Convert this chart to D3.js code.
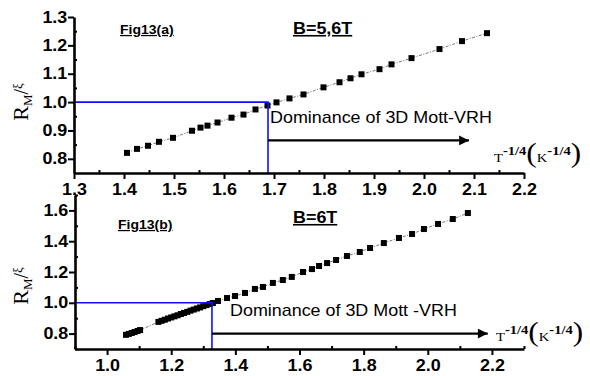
<!DOCTYPE html>
<html>
<head>
<meta charset="utf-8">
<script src="https://cdn.jsdelivr.net/npm/d3@7"></script>
<style>
  html, body { margin: 0; padding: 0; background: #fff; }
  svg { display: block; }
</style>
</head>
<body>
<svg id="chart" width="590" height="376"></svg>
<script>
// Panel (a): B = 5.6 T
const tA = [1.406, 1.426, 1.448, 1.470, 1.498, 1.536, 1.553, 1.567, 1.587, 1.615, 1.639, 1.663, 1.687,
            1.705, 1.731, 1.759, 1.799, 1.831, 1.853, 1.875, 1.911, 1.935, 1.975, 2.031, 2.076, 2.126];
const rA = [0.821, 0.835, 0.846, 0.860, 0.874, 0.899, 0.910, 0.917, 0.928, 0.945, 0.956, 0.974, 0.988,
            0.999, 1.013, 1.027, 1.052, 1.070, 1.084, 1.098, 1.116, 1.133, 1.155, 1.187, 1.215, 1.243];

// Panel (b): B = 6 T
const tB = [1.059, 1.068, 1.077, 1.086, 1.095, 1.103,
            1.160, 1.170, 1.180, 1.190, 1.200, 1.210, 1.220, 1.230, 1.240, 1.250, 1.260, 1.270, 1.280,
            1.290, 1.300, 1.310, 1.320, 1.330,
            1.346, 1.374, 1.399, 1.430, 1.461, 1.486, 1.517, 1.548, 1.576, 1.611, 1.639, 1.661, 1.686,
            1.714, 1.748, 1.788, 1.820, 1.863, 1.910, 1.951, 1.988, 2.032, 2.078, 2.125];
const rB = [0.792, 0.798, 0.804, 0.810, 0.817, 0.823,
            0.876, 0.883, 0.890, 0.898, 0.905, 0.912, 0.919, 0.927, 0.934, 0.941, 0.949, 0.956, 0.963,
            0.970, 0.978, 0.985, 0.992, 0.999,
            1.012, 1.031, 1.044, 1.064, 1.090, 1.103, 1.129, 1.148, 1.168, 1.200, 1.219, 1.239, 1.258,
            1.278, 1.304, 1.330, 1.356, 1.388, 1.421, 1.447, 1.479, 1.512, 1.544, 1.583];

// Tick values
const xMajorA = [1.3, 1.4, 1.5, 1.6, 1.7, 1.8, 1.9, 2.0, 2.1, 2.2];
const xMinorA = [1.35, 1.45, 1.55, 1.65, 1.75, 1.85, 1.95, 2.05, 2.15];
const yMajorA = [0.8, 0.9, 1.0, 1.1, 1.2, 1.3];
const yMinorA = [0.85, 0.95, 1.05, 1.15, 1.25];
const xMajorB = [1.0, 1.2, 1.4, 1.6, 1.8, 2.0, 2.2];
const xMinorB = [0.9, 1.1, 1.3, 1.5, 1.7, 1.9, 2.1, 2.3];
const yMajorB = [0.8, 1.0, 1.2, 1.4, 1.6];
const yMinorB = [0.7, 0.9, 1.1, 1.3, 1.5, 1.7];

// Crossover guides (T^-1/4 where R/xi = 1) and arrow extents
const crossA = 1.688, arrowA = [1.688, 2.09], arrowYA = 0.865;
const crossB = 1.327, arrowB = [1.327, 2.187], arrowYB = 0.80;

const svg = d3.select("#chart");
const SX = 1.12; // horizontal text stretch

svg.append("defs").append("marker")
  .attr("id", "head").attr("viewBox", "0 0 10 10")
  .attr("refX", 10).attr("refY", 5)
  .attr("markerWidth", 7).attr("markerHeight", 4.5)
  .attr("markerUnits", "strokeWidth")
  .attr("orient", "auto")
  .append("path").attr("d", "M0,0 L10,5 L0,10 Z").attr("fill", "#000");

function panel(cfg) {
  const x = d3.scaleLinear(cfg.xDomain, cfg.xRange);
  const y = d3.scaleLinear(cfg.yDomain, cfg.yRange);
  const g = svg.append("g");

  // data: dotted connector + square markers
  const pts = cfg.xs.map((v, i) => [v, cfg.ys[i]]);
  g.append("path")
    .datum(pts)
    .attr("fill", "none").attr("stroke", "#777").attr("stroke-width", 1)
    .attr("stroke-dasharray", "3,1.5,1,1.5")
    .attr("d", d3.line().x(d => x(d[0])).y(d => y(d[1])));
  const s = cfg.marker;
  g.selectAll("rect.pt").data(pts).join("rect")
    .attr("class", "pt")
    .attr("x", d => x(d[0]) - s / 2).attr("y", d => y(d[1]) - s / 2)
    .attr("width", s).attr("height", s).attr("fill", "#000");

  // blue guide lines at R/xi = 1
  g.append("path")
    .attr("fill", "none").attr("stroke", "#1010ff").attr("stroke-width", 1.6)
    .attr("d", d3.line()([[x(cfg.xDomain[0]), y(1.0)], [x(cfg.cross), y(1.0)], [x(cfg.cross), y(cfg.yDomain[0])]]));

  // arrow
  g.append("line")
    .attr("x1", x(cfg.arrow[0])).attr("x2", x(cfg.arrow[1]))
    .attr("y1", y(cfg.arrowY)).attr("y2", y(cfg.arrowY))
    .attr("stroke", "#000").attr("stroke-width", 2.2)
    .attr("marker-end", "url(#head)");

  // axes
  const styleAxis = sel => {
    sel.select(".domain").attr("stroke", "#000").attr("stroke-width", 2.6);
    sel.selectAll(".tick line").attr("stroke", "#000").attr("stroke-width", 2);
    sel.selectAll(".tick text")
      .attr("font-family", "'Liberation Sans', Arial, sans-serif")
      .attr("font-weight", "bold").attr("font-size", 16).attr("fill", "#000")
      .attr("transform", `scale(${SX},1)`);
  };
  const x0 = cfg.xRange[0], y0 = cfg.yRange[0];
  const ax = g.append("g").attr("transform", `translate(0,${y0})`)
    .call(d3.axisBottom(x).tickValues(cfg.xMajor).tickSize(6).tickSizeOuter(0).tickPadding(5)
      .tickFormat(d3.format(".1f")));
  styleAxis(ax);
  g.append("g").attr("transform", `translate(0,${y0})`)
    .call(d3.axisBottom(x).tickValues(cfg.xMinor).tickSize(-3).tickFormat(""))
    .call(s2 => { s2.select(".domain").remove(); s2.selectAll("line").attr("stroke", "#000").attr("stroke-width", 2); });
  const ay = g.append("g").attr("transform", `translate(${x0},0)`)
    .call(d3.axisLeft(y).tickValues(cfg.yMajor).tickSize(6).tickSizeOuter(0).tickPadding(0)
      .tickFormat(d3.format(".1f")));
  styleAxis(ay);
  g.append("g").attr("transform", `translate(${x0},0)`)
    .call(d3.axisLeft(y).tickValues(cfg.yMinor).tickSize(-3).tickFormat(""))
    .call(s2 => { s2.select(".domain").remove(); s2.selectAll("line").attr("stroke", "#000").attr("stroke-width", 2); });

  // labels
  const label = (txt, px, py, size, bold) => g.append("text")
    .attr("transform", `translate(${px},${py}) scale(${SX},1)`)
    .attr("font-family", "'Liberation Sans', Arial, sans-serif")
    .attr("font-size", size).attr("font-weight", bold ? "bold" : "normal")
    .attr("text-decoration", bold ? "underline" : null)
    .attr("fill", "#000").text(txt);
  label(cfg.fig, cfg.figPos[0], cfg.figPos[1], 12.5, true);
  label(cfg.field, cfg.fieldPos[0], cfg.fieldPos[1], 16, true);
  label(cfg.note, cfg.notePos[0], cfg.notePos[1], 16, false);

  // x-axis title: T^-1/4 (K^-1/4)
  const xt = g.append("text")
    .attr("transform", `translate(${cfg.xTitle[0]},${cfg.xTitle[1]}) scale(${SX},1)`)
    .attr("font-family", "'Liberation Serif', 'Times New Roman', serif")
    .attr("fill", "#000");
  xt.append("tspan").attr("font-size", 13).text("T");
  xt.append("tspan").attr("font-size", 13).attr("font-weight", "bold").attr("dy", -7).text("-1/4");
  xt.append("tspan").attr("font-size", 28).attr("dy", 7).text("(");
  xt.append("tspan").attr("font-size", 13).text("K");
  xt.append("tspan").attr("font-size", 13).attr("font-weight", "bold").attr("dy", -7).text("-1/4");
  xt.append("tspan").attr("font-size", 28).attr("dy", 7).text(")");

  // y-axis title: R_M / xi
  const yt = g.append("text")
    .attr("transform", `translate(${cfg.yTitle[0]},${cfg.yTitle[1]}) rotate(-90)`)
    .attr("text-anchor", "middle")
    .attr("font-family", "'Liberation Serif', 'Times New Roman', serif")
    .attr("fill", "#000");
  yt.append("tspan").attr("font-size", 22).text("R");
  yt.append("tspan").attr("font-size", 13).attr("dy", 4).text("M");
  yt.append("tspan").attr("font-size", 20).attr("dy", -4).text("/");
  yt.append("tspan").attr("font-size", 13).attr("dy", -6).text("ξ");
}

panel({
  xs: tA, ys: rA, marker: 6,
  xDomain: [1.3, 2.2], xRange: [74, 524],
  yDomain: [0.75, 1.3], yRange: [173, 17],
  xMajor: xMajorA, xMinor: xMinorA, yMajor: yMajorA, yMinor: yMinorA,
  cross: crossA, arrow: arrowA, arrowY: arrowYA,
  fig: "Fig13(a)", figPos: [120, 34],
  field: "B=5,6T", fieldPos: [293, 34],
  note: "Dominance of 3D Mott-VRH", notePos: [270, 123],
  xTitle: [494, 162], yTitle: [28, 102]
});

panel({
  xs: tB, ys: rB, marker: 6,
  xDomain: [0.9, 2.3], xRange: [75, 524],
  yDomain: [0.7, 1.7], yRange: [349, 195],
  xMajor: xMajorB, xMinor: xMinorB, yMajor: yMajorB, yMinor: yMinorB,
  cross: crossB, arrow: arrowB, arrowY: arrowYB,
  fig: "Fig13(b)", figPos: [118, 229],
  field: "B=6T", fieldPos: [293, 223],
  note: "Dominance of 3D Mott -VRH", notePos: [230, 316],
  xTitle: [496, 341], yTitle: [28, 286]
});
</script>
</body>
</html>
